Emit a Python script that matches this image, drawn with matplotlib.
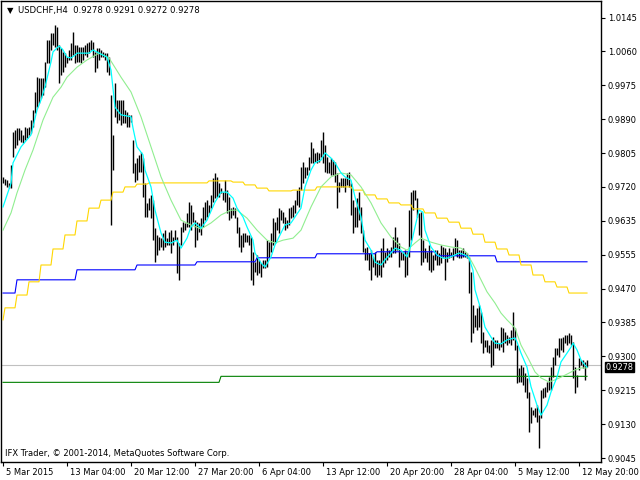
import matplotlib
matplotlib.use("Agg")
import matplotlib.pyplot as plt
import matplotlib.transforms as mtransforms
import numpy as np

symbol = "USDCHF,H4"
last_ohlc = ["0.9278", "0.9291", "0.9272", "0.9278"]
bid = 0.9278
copyright_text = "IFX Trader, \u00a9 2001-2014, MetaQuotes Software Corp."

# H4 bars, first visible bar is 5 Mar 2015 20:00
highs = [
    0.9747, 0.9742, 0.9739, 0.9731, 0.9777, 0.9859, 0.9864, 0.9869, 0.9869, 0.9864,
    0.9852, 0.9872, 0.9869, 0.9872, 0.9889, 0.9914, 0.9959, 0.9996, 0.9994, 0.9994,
    0.9994, 1.0034, 1.0089, 1.0089, 1.0106, 1.0106, 1.0126, 1.0121, 1.0076, 1.0069,
    1.0059, 1.0056, 1.0046, 1.0064, 1.0081, 1.0109, 1.0076, 1.0076, 1.0071, 1.0071,
    1.0071, 1.0076, 1.0081, 1.0084, 1.0089, 1.0084, 1.0059, 1.0069, 1.0069, 1.0064,
    1.0059, 1.0056, 1.0056, 1.0046, 0.9952, 0.9852, 0.9981, 0.9939, 0.9939, 0.9939,
    0.9939, 0.9914, 0.9909, 0.9902, 0.9902, 0.9839, 0.9782, 0.9794, 0.9802, 0.9809,
    0.9794, 0.9732, 0.9682, 0.9694, 0.9702, 0.9689, 0.9619, 0.9602, 0.9597, 0.9594,
    0.9607, 0.9614, 0.9594, 0.9609, 0.9614, 0.9597, 0.9614, 0.9597, 0.9582, 0.9622,
    0.9634, 0.9632, 0.9657, 0.9684, 0.9677, 0.9659, 0.9639, 0.9634, 0.9632, 0.9644,
    0.9672, 0.9684, 0.9689, 0.9677, 0.9702, 0.9744, 0.9757, 0.9747, 0.9732, 0.9719,
    0.9709, 0.9739, 0.9714, 0.9697, 0.9669, 0.9672, 0.9669, 0.9647, 0.9622, 0.9602,
    0.9607, 0.9607, 0.9602, 0.9602, 0.9597, 0.9559, 0.9534, 0.9552, 0.9540, 0.9532,
    0.9540, 0.9540, 0.9589, 0.9584, 0.9607, 0.9644, 0.9634, 0.9647, 0.9669, 0.9664,
    0.9659, 0.9647, 0.9639, 0.9669, 0.9672, 0.9677, 0.9689, 0.9714, 0.9722, 0.9772,
    0.9784, 0.9772, 0.9772, 0.9797, 0.9834, 0.9819, 0.9807, 0.9809, 0.9807, 0.9839,
    0.9859, 0.9827, 0.9797, 0.9784, 0.9794, 0.9789, 0.9784, 0.9757, 0.9734, 0.9744,
    0.9744, 0.9744, 0.9757, 0.9759, 0.9732, 0.9689, 0.9672, 0.9694, 0.9709, 0.9672,
    0.9614, 0.9569, 0.9572, 0.9557, 0.9564, 0.9547, 0.9559, 0.9540, 0.9540, 0.9569,
    0.9594, 0.9559, 0.9569, 0.9564, 0.9572, 0.9597, 0.9622, 0.9597, 0.9582, 0.9559,
    0.9559, 0.9564, 0.9559, 0.9664, 0.9709, 0.9714, 0.9714, 0.9694, 0.9657, 0.9659,
    0.9589, 0.9569, 0.9559, 0.9577, 0.9564, 0.9552, 0.9564, 0.9564, 0.9557, 0.9577,
    0.9572, 0.9569, 0.9559, 0.9569, 0.9559, 0.9569, 0.9594, 0.9589, 0.9564, 0.9564,
    0.9569, 0.9559, 0.9557, 0.9547, 0.9509, 0.9427, 0.9402, 0.9419, 0.9427, 0.9409,
    0.9360, 0.9340, 0.9340, 0.9327, 0.9340, 0.9347, 0.9340, 0.9340, 0.9332, 0.9372,
    0.9370, 0.9360, 0.9352, 0.9347, 0.9365, 0.9409, 0.9370, 0.9327, 0.9270, 0.9277,
    0.9272, 0.9257, 0.9245, 0.9210, 0.9172, 0.9165, 0.9170, 0.9177, 0.9152, 0.9215,
    0.9220, 0.9222, 0.9235, 0.9247, 0.9272, 0.9297, 0.9320, 0.9320, 0.9345, 0.9345,
    0.9347, 0.9352, 0.9352, 0.9357, 0.9352, 0.9335, 0.9272, 0.9252, 0.9295, 0.9290,
    0.9290, 0.9285, 0.9291,
]
lows = [
    0.9731, 0.9727, 0.9722, 0.9719, 0.9719, 0.9797, 0.9819, 0.9827, 0.9839, 0.9834,
    0.9832, 0.9839, 0.9844, 0.9852, 0.9857, 0.9872, 0.9907, 0.9921, 0.9932, 0.9944,
    0.9952, 0.9971, 1.0031, 1.0031, 1.0064, 1.0076, 1.0071, 1.0064, 0.9981, 1.0001,
    1.0009, 1.0021, 1.0031, 1.0039, 1.0039, 1.0051, 1.0031, 1.0034, 1.0034, 1.0031,
    1.0039, 1.0051, 1.0046, 1.0056, 1.0064, 1.0046, 1.0009, 1.0019, 1.0039, 1.0046,
    1.0046, 1.0039, 1.0009, 1.0001, 0.9627, 0.9764, 0.9896, 0.9881, 0.9889, 0.9877,
    0.9881, 0.9881, 0.9872, 0.9872, 0.9884, 0.9757, 0.9734, 0.9739, 0.9759, 0.9759,
    0.9697, 0.9647, 0.9647, 0.9664, 0.9644, 0.9589, 0.9534, 0.9552, 0.9564, 0.9572,
    0.9564, 0.9572, 0.9577, 0.9577, 0.9557, 0.9577, 0.9589, 0.9507, 0.9490, 0.9577,
    0.9609, 0.9614, 0.9622, 0.9622, 0.9614, 0.9634, 0.9572, 0.9589, 0.9609, 0.9602,
    0.9622, 0.9639, 0.9647, 0.9657, 0.9669, 0.9684, 0.9694, 0.9697, 0.9697, 0.9707,
    0.9689, 0.9684, 0.9657, 0.9639, 0.9644, 0.9652, 0.9644, 0.9607, 0.9572, 0.9559,
    0.9572, 0.9584, 0.9584, 0.9577, 0.9490, 0.9477, 0.9509, 0.9502, 0.9507, 0.9497,
    0.9519, 0.9519, 0.9522, 0.9547, 0.9559, 0.9577, 0.9582, 0.9614, 0.9607, 0.9639,
    0.9632, 0.9614, 0.9619, 0.9627, 0.9644, 0.9647, 0.9657, 0.9677, 0.9672, 0.9714,
    0.9732, 0.9744, 0.9752, 0.9764, 0.9782, 0.9782, 0.9784, 0.9782, 0.9784, 0.9797,
    0.9782, 0.9759, 0.9757, 0.9757, 0.9752, 0.9752, 0.9734, 0.9669, 0.9709, 0.9722,
    0.9722, 0.9709, 0.9727, 0.9722, 0.9652, 0.9607, 0.9622, 0.9622, 0.9639, 0.9607,
    0.9559, 0.9540, 0.9540, 0.9515, 0.9490, 0.9522, 0.9502, 0.9497, 0.9502, 0.9497,
    0.9522, 0.9532, 0.9540, 0.9547, 0.9547, 0.9557, 0.9557, 0.9564, 0.9522, 0.9540,
    0.9540, 0.9497, 0.9502, 0.9547, 0.9589, 0.9664, 0.9689, 0.9647, 0.9602, 0.9527,
    0.9534, 0.9544, 0.9534, 0.9515, 0.9509, 0.9515, 0.9540, 0.9527, 0.9527, 0.9532,
    0.9547, 0.9490, 0.9534, 0.9544, 0.9547, 0.9540, 0.9552, 0.9547, 0.9544, 0.9544,
    0.9547, 0.9547, 0.9544, 0.9457, 0.9335, 0.9357, 0.9372, 0.9365, 0.9372, 0.9332,
    0.9307, 0.9322, 0.9310, 0.9307, 0.9272, 0.9277, 0.9320, 0.9320, 0.9315, 0.9322,
    0.9310, 0.9332, 0.9327, 0.9332, 0.9327, 0.9340, 0.9315, 0.9232, 0.9235, 0.9235,
    0.9227, 0.9210, 0.9195, 0.9110, 0.9132, 0.9152, 0.9147, 0.9135, 0.9070, 0.9145,
    0.9195, 0.9197, 0.9210, 0.9215, 0.9215, 0.9247, 0.9277, 0.9302, 0.9297, 0.9315,
    0.9310, 0.9332, 0.9327, 0.9332, 0.9327, 0.9245, 0.9207, 0.9222, 0.9265, 0.9277,
    0.9270, 0.9240, 0.9272,
]

# fast moving average (aqua), read at these bars
fast_ma_bar = [
    0, 4, 5, 9, 11, 14, 15, 17, 19, 21, 24, 25, 28, 30, 32, 34, 36, 37, 40, 43,
    45, 48, 52, 54, 56, 59, 64, 65, 67, 70, 71, 74, 76, 79, 81, 84, 87, 89, 92, 94,
    96, 99, 102, 106, 109, 112, 115, 117, 120, 122, 125, 126, 129, 131, 134, 136, 139, 141, 144, 146,
    149, 151, 154, 156, 159, 161, 164, 166, 169, 171, 174, 176, 179, 181, 184, 186, 189, 191, 194, 196,
    199, 202, 204, 206, 208, 210, 211, 214, 217, 220, 222, 226, 228, 231, 233, 235, 236, 239, 241, 244,
    246, 249, 252, 256, 257, 259, 262, 264, 267, 269, 272, 274, 277, 279, 282, 284, 285, 287, 289, 291,
    292,
]
fast_ma = [
    0.9672, 0.9731, 0.9782, 0.9822, 0.9834, 0.9852, 0.9872, 0.9914, 0.9939, 0.9972,
    1.0034, 1.0059, 1.0074, 1.0064, 1.0046, 1.0044, 1.0051, 1.0056, 1.0056, 1.0056,
    1.0064, 1.0056, 1.0046, 1.0014, 0.9921, 0.9902, 0.9897, 0.9869, 0.9822, 0.9802,
    0.9764, 0.9722, 0.9664, 0.9607, 0.9584, 0.9582, 0.9589, 0.9569, 0.9594, 0.9622,
    0.9632, 0.9619, 0.9639, 0.9684, 0.9709, 0.9709, 0.9694, 0.9669, 0.9647, 0.9622,
    0.9589, 0.9557, 0.9532, 0.9522, 0.9547, 0.9577, 0.9607, 0.9627, 0.9632, 0.9647,
    0.9669, 0.9722, 0.9764, 0.9782, 0.9789, 0.9807, 0.9794, 0.9782, 0.9757, 0.9747,
    0.9739, 0.9697, 0.9647, 0.9589, 0.9564, 0.9534, 0.9527, 0.9540, 0.9557, 0.9569,
    0.9564, 0.9547, 0.9577, 0.9622, 0.9664, 0.9659, 0.9614, 0.9572, 0.9552, 0.9544,
    0.9544, 0.9552, 0.9557, 0.9552, 0.9544, 0.9514, 0.9465, 0.9415, 0.9372, 0.9347,
    0.9332, 0.9330, 0.9340, 0.9345, 0.9335, 0.9307, 0.9272, 0.9223, 0.9177, 0.9152,
    0.9177, 0.9210, 0.9247, 0.9285, 0.9307, 0.9322, 0.9332, 0.9315, 0.9290, 0.9277,
    0.9272,
]

# slow moving average (light green)
slow_ma_bar = [
    0, 4, 7, 11, 15, 20, 25, 29, 32, 37, 42, 48, 53, 59, 64, 69, 74, 79, 84, 89,
    94, 99, 104, 109, 114, 117, 122, 127, 132, 136, 140, 145, 149, 154, 159, 164, 169, 174, 179, 184,
    189, 194, 199, 202, 206, 209, 214, 219, 224, 229, 232, 236, 239, 242, 246, 249, 252, 256, 259, 263,
    266, 269, 273, 276, 279, 283, 286, 289, 292,
]
slow_ma = [
    0.9614, 0.9657, 0.9707, 0.9764, 0.9814, 0.9889, 0.9946, 0.9971, 0.9996, 1.0021,
    1.0039, 1.0056, 1.0044, 0.9996, 0.9959, 0.9897, 0.9822, 0.9747, 0.9689, 0.9639,
    0.9627, 0.9617, 0.9632, 0.9652, 0.9664, 0.9664, 0.9644, 0.9614, 0.9589, 0.9582,
    0.9589, 0.9594, 0.9614, 0.9672, 0.9722, 0.9747, 0.9757, 0.9752, 0.9722, 0.9682,
    0.9632, 0.9597, 0.9572, 0.9564, 0.9582, 0.9594, 0.9584, 0.9577, 0.9572, 0.9569,
    0.9557, 0.9520, 0.9490, 0.9460, 0.9432, 0.9407, 0.9390, 0.9370, 0.9327, 0.9290,
    0.9260, 0.9245, 0.9235, 0.9240, 0.9247, 0.9257, 0.9265, 0.9270, 0.9270,
]

# one value per trading day (gold line), per week (blue), per month (dark green)
daily_level = [
    0.9390, 0.9420, 0.9452, 0.9485, 0.9527, 0.9567, 0.9602, 0.9637, 0.9669, 0.9689,
    0.9709, 0.9722, 0.9729, 0.9732, 0.9732, 0.9732, 0.9732, 0.9732, 0.9737, 0.9737,
    0.9734, 0.9727, 0.9719, 0.9712, 0.9712, 0.9714, 0.9714, 0.9722, 0.9722, 0.9722,
    0.9714, 0.9702, 0.9692, 0.9682, 0.9677, 0.9667, 0.9657, 0.9644, 0.9634, 0.9619,
    0.9604, 0.9584, 0.9567, 0.9552, 0.9527, 0.9502, 0.9485, 0.9472, 0.9457, 0.9457,
]
weekly_level = [0.9457, 0.9490, 0.9515, 0.9527, 0.9535, 0.9545, 0.9555, 0.9560, 0.9550, 0.9535, 0.9535]
monthly_level = [0.9234, 0.9249]
april_first_bar = 109

price_ticks = [1.0145, 1.00604, 0.99758, 0.98912, 0.98065, 0.97219, 0.96373,
               0.95527, 0.94681, 0.93835, 0.92988, 0.92142, 0.91296, 0.9045]
price_labels = ["1.0145", "1.0060", "0.9975", "0.9890", "0.9805", "0.9720", "0.9635",
                "0.9555", "0.9470", "0.9385", "0.9300", "0.9215", "0.9130", "0.9045"]
time_tick_bars = [0, 32, 64, 96, 128, 160, 192, 224, 256, 288]
time_labels = ["5 Mar 2015", "13 Mar 04:00", "20 Mar 12:00", "27 Mar 20:00", "6 Apr 04:00",
               "13 Apr 12:00", "20 Apr 20:00", "28 Apr 04:00", "5 May 12:00", "12 May 20:00"]

bars = np.arange(len(highs))
daily_line = np.array(daily_level)[(bars + 5) // 6]
weekly_line = np.array(weekly_level)[(bars + 23) // 30]
monthly_line = np.where(bars < april_first_bar, monthly_level[0], monthly_level[1])

plt.rcParams["font.family"] = "DejaVu Sans"
fig = plt.figure(figsize=(6.4, 4.8), dpi=100)
fig.patch.set_facecolor("white")
ax = fig.add_axes([1 / 640, 18 / 480, 600 / 640, 461 / 480])
ax.set_facecolor("white")
ax.set_xlim(-1, 299)
ax.set_ylim(0.90351, 1.01862)

ax.axhline(bid, color="#C0C0C0", lw=0.8, zorder=1)
ax.vlines(bars, lows, highs, colors="black", linewidth=1.0, zorder=2)
ax.plot(bars, monthly_line, color="#008000", lw=0.8, zorder=3)
ax.plot(bars, weekly_line, color="#0000FF", lw=0.8, zorder=3)
ax.plot(bars, daily_line, color="#FFD700", lw=0.8, zorder=3)
ax.plot(slow_ma_bar, slow_ma, color="#90EE90", lw=0.8, zorder=4)
ax.plot(fast_ma_bar, fast_ma, color="#00FFFF", lw=0.9, zorder=5)

for s in ax.spines.values():
    s.set_color("black")
    s.set_linewidth(1.0)

ax.yaxis.tick_right()
ax.set_yticks(price_ticks)
ax.set_yticklabels(price_labels)
ax.tick_params(axis="y", direction="out", length=3, width=0.8, labelsize=6, pad=2)
ax.set_xticks(time_tick_bars)
ax.set_xticklabels(time_labels)
ax.tick_params(axis="x", direction="out", length=3, width=0.8, labelsize=6, pad=1.5)
shift = mtransforms.ScaledTranslation(2 / 72, 0, fig.dpi_scale_trans)
for lab in ax.get_xticklabels():
    lab.set_horizontalalignment("left")
    lab.set_transform(lab.get_transform() + shift)

# current price box on the price scale
ax.annotate(last_ohlc[3], xy=(1, bid), xycoords=ax.get_yaxis_transform(),
            xytext=(3, -1.8), textcoords="offset points", ha="left", va="center",
            fontsize=5.8, color="white", annotation_clip=False, zorder=6,
            bbox=dict(boxstyle="square,pad=0.08", fc="black", ec="black"))

fig.text(7 / 640, 1 - 11 / 480, "\u25bc", fontsize=6, va="center", ha="left")
fig.text(18 / 640, 1 - 11 / 480, symbol + "  " + " ".join(last_ohlc),
         fontsize=6.1, va="center", ha="left")
fig.text(5 / 640, 1 - 454 / 480, copyright_text, fontsize=6, va="center", ha="left")

fig.savefig("out.png", dpi=100)
